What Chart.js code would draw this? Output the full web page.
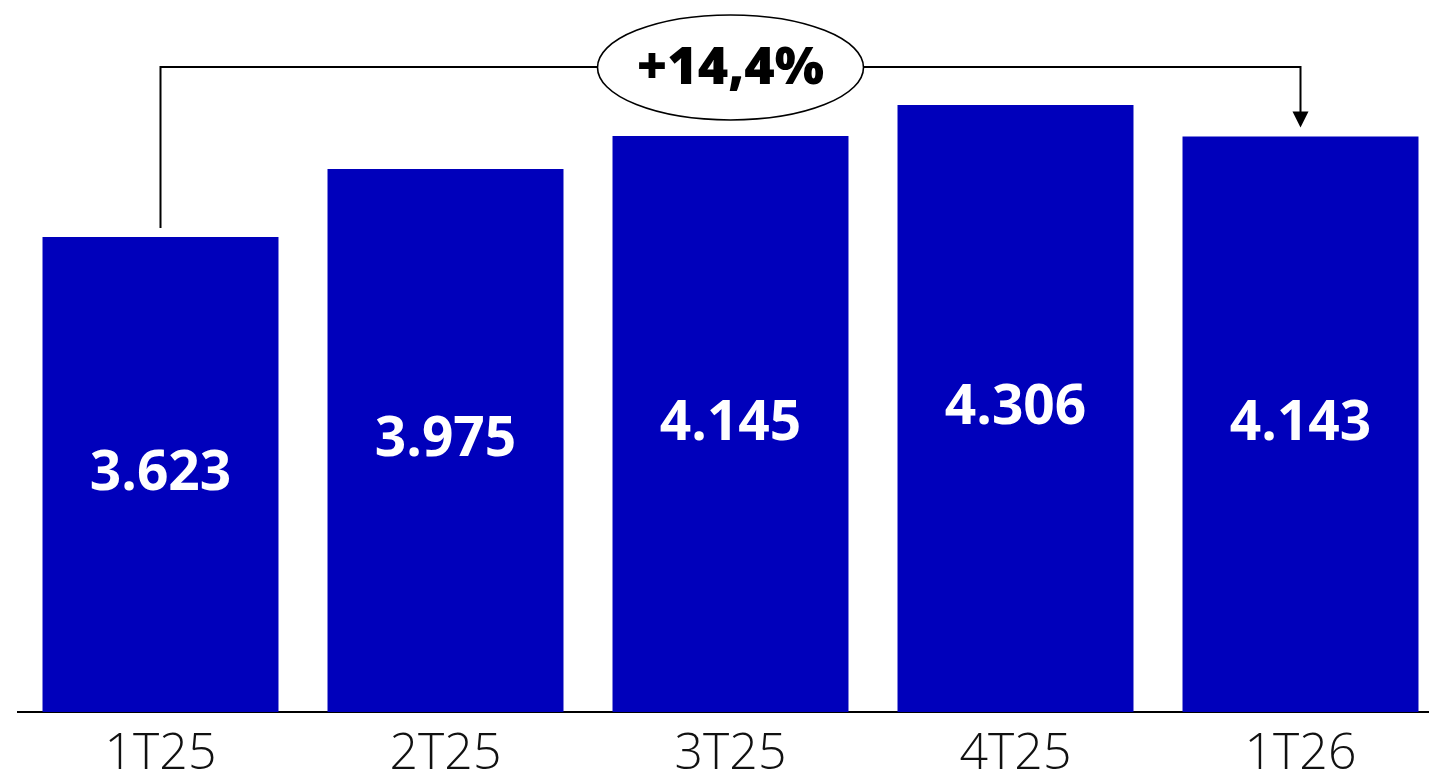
<!DOCTYPE html>
<html>
<head>
<meta charset="utf-8">
<script src="https://cdn.jsdelivr.net/npm/chart.js@4/dist/chart.umd.min.js"></script>
<style>
  html, body { margin: 0; padding: 0; background: #fff; overflow: hidden; }
  #wrap { width: 1443px; height: 789px; }
</style>
</head>
<body>
<div id="wrap"><canvas id="c"></canvas></div>
<script>
// Quarterly figures
const categories = ['1T25', '2T25', '3T25', '4T25', '1T26'];
const values = [3623, 3975, 4145, 4306, 4143];
const axisRange = [1165, 4849];
const growthLabel = '+14,4%';

const barColor = '#0000BB';
const fontFamily = '"Open Sans", "Liberation Sans", sans-serif';

function formatThousands(v) {
  const s = String(Math.round(v));
  return s.replace(/\B(?=(\d{3})+(?!\d))/g, '.');
}

// Value labels inside the bars plus the growth bracket from first to last quarter
const overlay = {
  id: 'overlay',
  afterDatasetsDraw(chart) {
    const { ctx, chartArea } = chart;
    const meta = chart.getDatasetMeta(0);
    const bars = meta.data;
    ctx.save();

    ctx.fillStyle = '#ffffff';
    ctx.font = '700 55px ' + fontFamily;
    ctx.textAlign = 'center';
    ctx.textBaseline = 'middle';
    bars.forEach((bar, i) => {
      const bottom = Math.min(bar.base, chartArea.bottom);
      const mid = (bar.y + bottom) / 2;
      ctx.fillText(formatThousands(values[i]), bar.x, mid);
    });

    const first = bars[0];
    const last = bars[bars.length - 1];
    const peak = Math.min(...bars.map(b => b.y));
    const lineY = peak - 38;
    const startY = first.y - 9;
    const tipY = last.y - 9;
    const headH = 16, headW = 8;

    ctx.strokeStyle = '#000';
    ctx.fillStyle = '#000';
    ctx.lineWidth = 2;
    ctx.beginPath();
    ctx.moveTo(first.x, startY);
    ctx.lineTo(first.x, lineY);
    ctx.lineTo(last.x, lineY);
    ctx.lineTo(last.x, tipY - headH + 1);
    ctx.stroke();

    ctx.beginPath();
    ctx.moveTo(last.x - headW, tipY - headH);
    ctx.lineTo(last.x + headW, tipY - headH);
    ctx.lineTo(last.x, tipY);
    ctx.closePath();
    ctx.fill();

    const cx = (first.x + last.x) / 2;
    ctx.beginPath();
    ctx.ellipse(cx, lineY + 0.5, 133, 52.5, 0, 0, Math.PI * 2);
    ctx.fillStyle = '#fff';
    ctx.fill();
    ctx.lineWidth = 1.6;
    ctx.stroke();

    ctx.fillStyle = '#000';
    ctx.font = '800 52px ' + fontFamily;
    ctx.fillText(growthLabel, cx, lineY + 2);

    ctx.restore();
  }
};

new Chart(document.getElementById('c'), {
  type: 'bar',
  data: {
    labels: categories,
    datasets: [{
      data: values,
      backgroundColor: barColor,
      borderWidth: 0,
      categoryPercentage: 1,
      barPercentage: 0.828
    }]
  },
  options: {
    responsive: true,
    maintainAspectRatio: false,
    animation: false,
    layout: { padding: { left: 18, right: 0, top: 0, bottom: 0 } },
    plugins: {
      legend: { display: false },
      tooltip: { enabled: false }
    },
    scales: {
      x: {
        grid: { display: false },
        border: { display: true, color: '#000', width: 2 },
        ticks: {
          color: '#111',
          padding: 4.5,
          font: { family: fontFamily, size: 50, weight: 300, lineHeight: 1.2 }
        }
      },
      y: {
        display: false,
        min: axisRange[0],
        max: axisRange[1]
      }
    }
  },
  plugins: [overlay]
});
</script>
</body>
</html>
